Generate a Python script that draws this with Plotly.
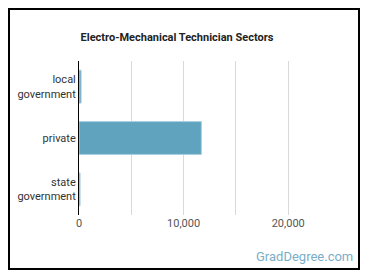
import plotly.graph_objects as go

categories = ["local<br>government", "private", "state<br>government"]
values = [200, 11700, 100]
tick_vals = [0, 5000, 10000, 15000, 20000]
tick_text = ["0", "", "10,000", "", "20,000"]

W, H = 370, 278
L, R, T, B = 79, 30, 61, 63
pw = W - L - R
ph = H - T - B

def px2x(px):
    return (px - L) / pw

def py2y(py):
    return (H - B - py) / ph

fig = go.Figure(go.Bar(
    x=values, y=categories, orientation="h",
    marker=dict(color="#5fa3bf", line=dict(color="#a9d0e0", width=1)),
    width=0.64,
))

fig.update_layout(
    width=W, height=H,
    margin=dict(l=L, r=R, t=T, b=B),
    paper_bgcolor="white", plot_bgcolor="white",
    showlegend=False,
    font=dict(family="Roboto", size=11, color="#333333"),
    title=dict(text="<b>Electro-Mechanical Technician Sectors</b>",
               x=177 / W, xanchor="center", xref="container",
               y=1 - 37 / H, yanchor="middle", yref="container",
               font=dict(family="Roboto", size=11, color="#222222")),
    xaxis=dict(range=[0, 24950], tickvals=tick_vals, ticktext=tick_text,
               showgrid=True, gridcolor="#d9d9d9", gridwidth=1,
               zeroline=False, showline=False, ticks="",
               tickfont=dict(family="Roboto", size=11, color="#555555")),
    yaxis=dict(autorange="reversed", showline=True, linecolor="#000000", linewidth=1,
               ticks="", showgrid=False,
               tickfont=dict(family="Roboto", size=11, color="#333333")),
    shapes=[dict(type="rect", xref="paper", yref="paper",
                 x0=px2x(9), x1=px2x(359), y0=py2y(269), y1=py2y(9),
                 line=dict(color="#000000", width=2), layer="above")],
    annotations=[dict(text="GradDegree.com", xref="paper", yref="paper",
                      x=px2x(355), y=py2y(256), xanchor="right", yanchor="middle",
                      showarrow=False,
                      font=dict(family="Roboto", size=13, color="#7aaec8"))],
)

fig.write_html("out.html")
